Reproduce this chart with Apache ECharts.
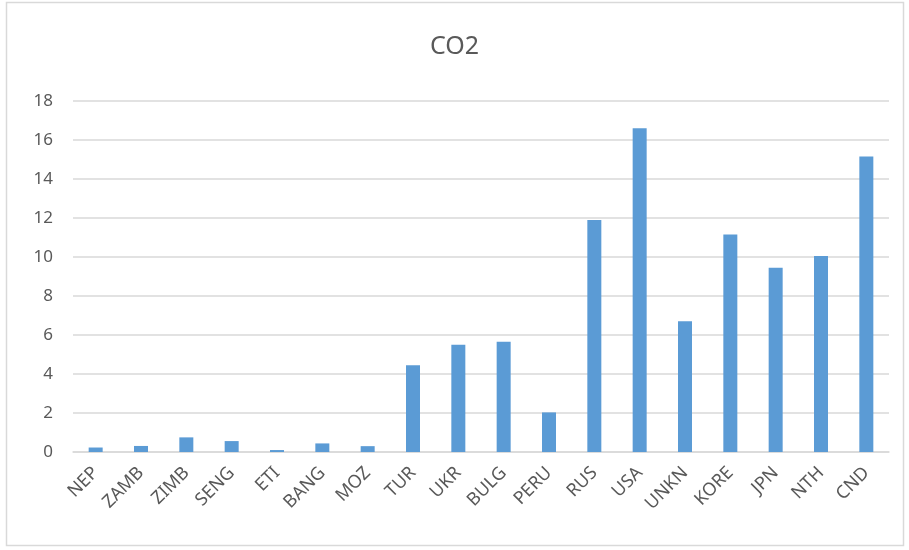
<!DOCTYPE html>
<html><head><meta charset="utf-8">
<script src="https://cdn.jsdelivr.net/npm/echarts@6/dist/echarts.min.js"></script>
<style>html,body{margin:0;padding:0;background:#fff}#c{width:909px;height:550px}</style>
</head><body><div id="c"></div>
<script>
const categories = ["NEP","ZAMB","ZIMB","SENG","ETI","BANG","MOZ","TUR","UKR","BULG","PERU","RUS","USA","UNKN","KORE","JPN","NTH","CND"];
const co2 = [0.23,0.31,0.75,0.56,0.1,0.44,0.3,4.45,5.5,5.65,2.03,11.9,16.6,6.7,11.15,9.45,10.05,15.15];
const yTicks = [0,2,4,6,8,10,12,14,16,18];

const chart = echarts.init(document.getElementById('c'));
const font = "'Noto Sans', 'Liberation Sans', sans-serif";
chart.setOption({
  animation:false,
  backgroundColor:'#fff',
  textStyle:{fontFamily:font},
  graphic:[{type:'rect',shape:{x:6.5,y:2.5,width:897,height:543},style:{fill:'none',stroke:'#d9d9d9',lineWidth:1.5},silent:true}],
  title:{text:'CO2',left:'center',top:29,textStyle:{color:'#595959',fontSize:25,fontWeight:'normal',fontFamily:font}},
  grid:{left:73,right:20,top:101,bottom:98,containLabel:false},
  xAxis:{type:'category',data:categories,
    axisLine:{show:true,lineStyle:{color:'#d9d9d9',width:1.5}},
    axisTick:{show:false},
    axisLabel:{rotate:45,color:'#595959',fontSize:18,margin:18,interval:0,fontFamily:font}},
  yAxis:{type:'value',min:yTicks[0],max:yTicks[yTicks.length-1],interval:2,
    axisLine:{show:false},axisTick:{show:false},
    splitLine:{lineStyle:{color:'#d9d9d9',width:1.5}},
    axisLabel:{color:'#595959',fontSize:17,margin:20,fontFamily:font}},
  series:[{type:'bar',data:co2,barWidth:14,itemStyle:{color:'#5b9bd5'}}]
});
</script></body></html>
